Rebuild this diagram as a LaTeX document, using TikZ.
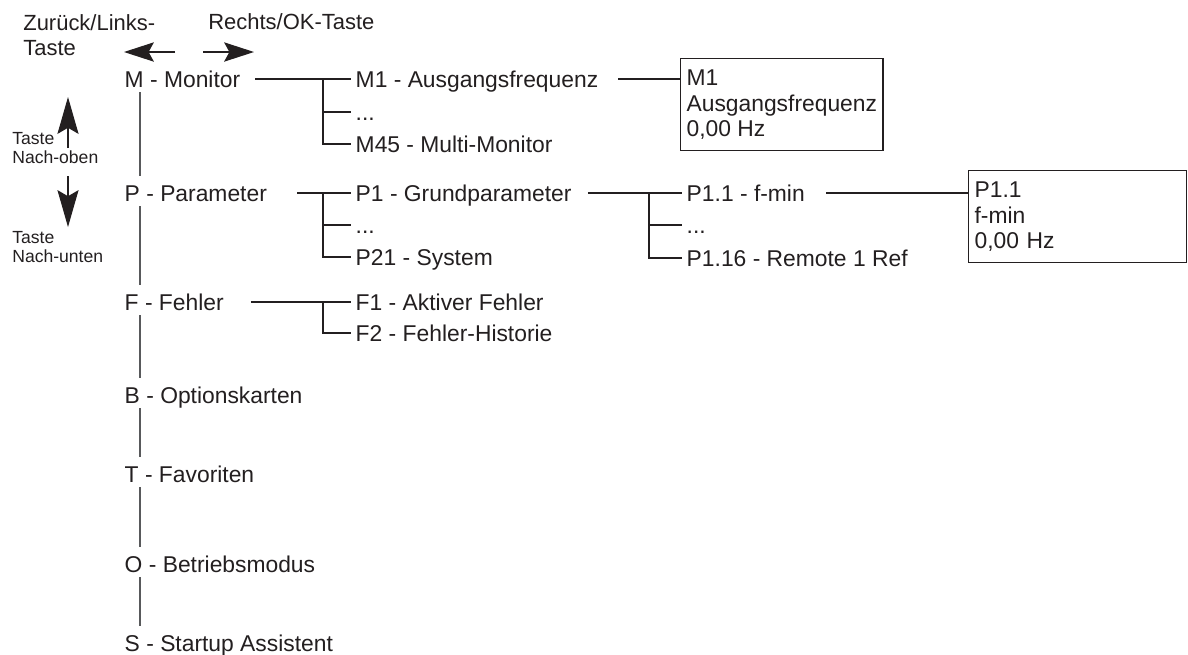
\documentclass[tikz,border=0pt]{standalone}
\usepackage{fontspec}
\setmainfont{Liberation Sans}
\usetikzlibrary{arrows.meta,positioning}
\definecolor{ink}{HTML}{231F20}
\definecolor{trunkgray}{HTML}{58595B}
\tikzset{
  item/.style={anchor=base west, inner xsep=2.5pt, inner ysep=0pt, text height=9pt, text depth=0pt, text=ink, font=\fontsize{13}{15.6}\selectfont},
  lbl/.style={anchor=base west, inner sep=0pt, align=left, text=ink},
  valbox/.style={draw=ink, line width=0.7pt, anchor=north west, align=left, inner xsep=3.4pt, minimum height=1.84cm, text=ink, font=\fontsize{13}{14.5}\selectfont},
  link/.style={draw=ink, line width=0.7pt},
  trunk/.style={draw=trunkgray, line width=0.9pt, shorten <=2.8pt, shorten >=5.1pt},
  hkey/.style={-{Stealth[length=17pt,width=11pt,inset=3pt]}, draw=ink, line width=0.7pt},
  vkey/.style={-{Stealth[length=21pt,width=12pt,inset=3.5pt]}, draw=ink, line width=0.7pt}
}

\begin{document}
\begin{tikzpicture}[x=0.02cm, y=-0.02cm]
\fill[white] (0,0) rectangle (1188,654);
\useasboundingbox (0,0) rectangle (1188,654);

% key labels
\node[lbl, font=\fontsize{12.5}{14.2}\selectfont] (back) at (23,55) {Zurück/Links-\\Taste};
\node[lbl, font=\fontsize{12.5}{14.2}\selectfont] (ok) at (208,29) {Rechts/OK-Taste};
\node[lbl, font=\fontsize{10}{10.8}\selectfont] (up) at (12,163) {Taste\\Nach-oben};
\node[lbl, font=\fontsize{10}{10.8}\selectfont] (down) at (12,262) {Taste\\Nach-unten};

\coordinate (kl1) at (175,52); \coordinate (kl2) at (124,52);
\coordinate (kr1) at (203,52); \coordinate (kr2) at (254,52);
\coordinate (ku1) at (68,148); \coordinate (ku2) at (68,97);
\coordinate (kd1) at (68,176); \coordinate (kd2) at (68,227);
\draw[hkey] (kl1) -- (kl2);
\draw[hkey] (kr1) -- (kr2);
\draw[vkey] (ku1) -- (ku2);
\draw[vkey] (kd1) -- (kd2);

% main menu
\node[item] (M) at (120,87) {M - Monitor};
\node[item] (P) at (120,201) {P - Parameter};
\node[item] (F) at (120,310) {F - Fehler};
\node[item] (B) at (120,403) {B - Optionskarten};
\node[item] (T) at (120,482) {T - Favoriten};
\node[item] (O) at (120,572) {O - Betriebsmodus};
\node[item] (S) at (120,651) {S - Startup Assistent};

\foreach \a/\b in {M/P,P/F,F/B,B/T,T/O,O/S}
  \draw[trunk] ([xshift=0.4cm]\a.south west) -- ([xshift=0.4cm]\b.north west);

% sub menus
\node[item] (M1) at (351,87) {M1 - Ausgangsfrequenz};
\node[item] (Md) at (351,120) {...};
\node[item] (M45) at (351,152) {M45 - Multi-Monitor};
\node[item] (P1) at (351,201) {P1 - Grundparameter};
\node[item] (Pd) at (351,233) {...};
\node[item] (P21) at (351,265) {P21 - System};
\node[item] (F1) at (351,310) {F1 - Aktiver Fehler};
\node[item] (F2) at (351,341) {F2 - Fehler-Historie};
\node[item] (P11) at (682,201) {P1.1 - f-min};
\node[item] (P1d) at (682,233) {...};
\node[item] (P116) at (682,266) {P1.16 - Remote 1 Ref};

\node[valbox] (mbox) at (680,58) {M1\\Ausgangsfrequenz\\0,00 Hz};
\node[valbox, text width=4.12cm] (pbox) at (968,170) {P1.1\\f-min\\0,00 Hz};

\coordinate (jM) at (323,0);
\coordinate (jP1) at (649,0);

\draw[link] ([xshift=0.21cm]M.east) -- (M1.west);
\draw[link] (jM |- M1.west) |- (M45.west);
\draw[link] (jM |- Md.west) -- (Md.west);
\draw[link] ([xshift=0.31cm]M1.east) -- (M1.east -| mbox.west);

\draw[link] ([xshift=0.51cm]P.east) -- (P1.west);
\draw[link] (jM |- P1.west) |- (P21.west);
\draw[link] (jM |- Pd.west) -- (Pd.west);
\draw[link] ([xshift=0.23cm]P1.east) -- (P11.west);
\draw[link] (jP1 |- P11.west) |- (P116.west);
\draw[link] (jP1 |- P1d.west) -- (P1d.west);
\draw[link] ([xshift=0.33cm]P11.east) -- (P11.east -| pbox.west);

\draw[link] ([xshift=0.45cm]F.east) -- (F1.west);
\draw[link] (jM |- F1.west) |- (F2.west);
\end{tikzpicture}
\end{document}
